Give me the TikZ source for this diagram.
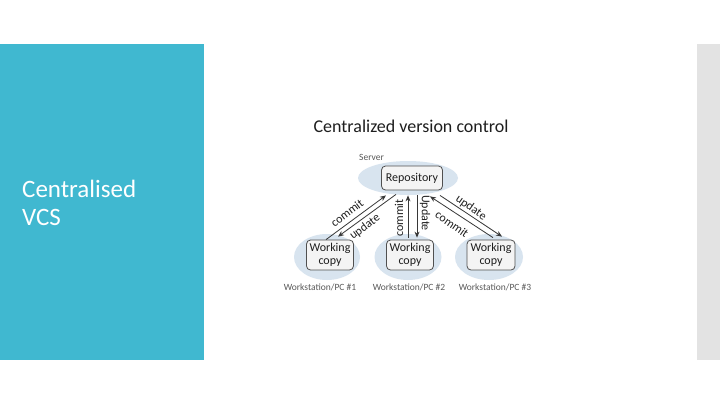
\documentclass[tikz,border=0pt]{standalone}
\usepackage{fontspec}
\setmainfont{Carlito}
\usetikzlibrary{arrows.meta,shapes.geometric}
\definecolor{panelblue}{RGB}{64,184,208}
\definecolor{stripgray}{RGB}{227,227,227}
\definecolor{ellfill}{RGB}{216,228,239}
\definecolor{boxfill}{RGB}{244,244,244}
\definecolor{boxline}{RGB}{80,80,80}
\definecolor{arrcol}{RGB}{55,55,55}
\definecolor{txtdark}{RGB}{30,30,30}
\definecolor{txtgray}{RGB}{90,90,90}
\tikzset{
  halo/.style={ellipse, fill=ellfill, draw=none, inner sep=0pt},
  wbox/.style={rectangle, rounded corners=4pt, draw=boxline, line width=0.8pt, fill=boxfill,
    font=\fontsize{12}{13}\selectfont, text=txtdark, align=center, inner sep=1pt},
  conn/.style={draw=arrcol, line width=0.8pt},
  tipend/.style={-{Stealth[length=6pt,width=5pt]}},
  tipstart/.style={{Stealth[length=6pt,width=5pt]}-},
  alabel/.style={font=\fontsize{12}{13}\selectfont, text=txtdark, inner sep=0pt},
  small/.style={font=\fontsize{9.5}{11}\selectfont, text=txtgray, inner sep=0pt},
}
\begin{document}
\begin{tikzpicture}[x=1pt,y=-1pt]
\useasboundingbox (0,0) rectangle (720,405);
\fill[white] (0,0) rectangle (720,405);
\fill[panelblue] (0,44) rectangle (204,360);
\fill[stripgray] (697,44) rectangle (720,360);
\node[anchor=base west, text=white, font=\fontsize{25}{28}\selectfont, inner sep=0pt] (t1) at (22,197) {Centralised};
\node[anchor=base west, text=white, font=\fontsize{25}{28}\selectfont, inner sep=0pt] (t2) at (22,225) {VCS};

\node[anchor=base, text=txtdark, font=\fontsize{18}{21}\selectfont, inner sep=0pt] (title) at (411,132) {Centralized version control};

% halos
\node[halo, minimum width=100pt, minimum height=34pt] (srv) at (408,178) {};
\node[halo, minimum width=66pt, minimum height=46pt] (e1) at (327,257) {};
\node[halo, minimum width=67pt, minimum height=46pt] (e2) at (408,257) {};
\node[halo, minimum width=68pt, minimum height=46pt] (e3) at (489,257) {};

\node[small, anchor=base west] (server) at (359,160) {Server};

% boxes
\node[wbox, minimum width=61pt, minimum height=24pt] (repo) at (412,178) {Repository};
\node[wbox, minimum width=47pt, minimum height=30pt] (w1) at (330,255) {Working\\copy};
\node[wbox, minimum width=47pt, minimum height=30pt] (w2) at (410,255) {Working\\copy};
\node[wbox, minimum width=48pt, minimum height=30pt] (w3) at (491,255) {Working\\copy};

\node[small, anchor=base] (pc1) at (320,290) {Workstation/PC \#1};
\node[small, anchor=base] (pc2) at (409,290) {Workstation/PC \#2};
\node[small, anchor=base] (pc3) at (495,290) {Workstation/PC \#3};

% connectors
\draw[conn, tipend] ([xshift=-4pt]w1.north) -- ([xshift=-26pt,yshift=-5pt]repo.south);
\draw[conn, tipstart] ([xshift=8pt,yshift=3pt]w1.north) -- ([xshift=-16pt,yshift=-4pt]repo.south);
\draw[conn, tipend] ([xshift=-2pt,yshift=2pt]w2.north) -- ([xshift=-4pt,yshift=-5pt]repo.south);
\draw[conn, tipstart] ([xshift=7pt,yshift=2pt]w2.north) -- ([xshift=5pt,yshift=-5pt]repo.south);
\draw[conn, tipend] ([xshift=2pt,yshift=2pt]w3.north) -- ([xshift=18pt,yshift=-6pt]repo.south);
\draw[conn, tipstart] ([xshift=11pt,yshift=3pt]w3.north) -- ([xshift=28pt,yshift=-5pt]repo.south);

% labels
\node[alabel, rotate=37] (lc1) at (347,213) {commit};
\node[alabel, rotate=37] (lu1) at (365,227) {update};
\node[alabel, rotate=90] (lc2) at (399,218) {commit};
\node[alabel, rotate=-90] (lu2) at (425,213) {Update};
\node[alabel, rotate=-35] (lu3) at (471,208) {update};
\node[alabel, rotate=-35] (lc3) at (452,224) {commit};
\end{tikzpicture}
\end{document}
